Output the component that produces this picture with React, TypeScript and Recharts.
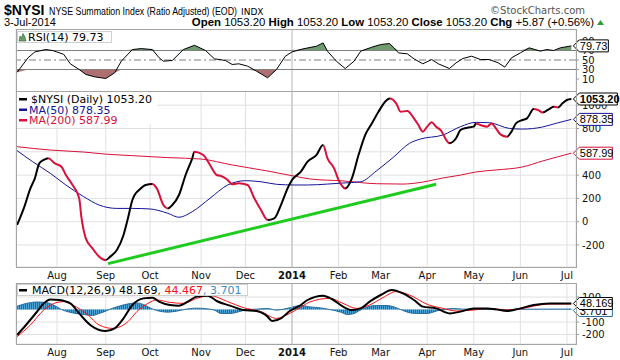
import React from "react";
import {
  ComposedChart,
  Line,
  Area,
  XAxis,
  YAxis,
  CartesianGrid,
  ReferenceLine,
  ReferenceDot,
} from "recharts";

// trading-day index (0 = 3-Jul-2013) for the first session of each month
const monthDays = [20, 42, 62, 85, 105, 126, 147, 166, 187, 208, 229, 250];
const monthNames = ["Aug", "Sep", "Oct", "Nov", "Dec", "2014", "Feb", "Mar", "Apr", "May", "Jun", "Jul"];

const nysiDays = [
  2, 5, 8, 10, 12, 14, 16, 19, 22, 24, 27, 30, 31, 33, 36, 39, 42, 44, 47, 50, 52, 54, 55, 57, 60, 63, 65, 68, 70, 72,
  75, 78, 81, 82, 86, 89, 92, 94, 97, 99, 102, 106, 109, 112, 115, 118, 121, 124, 126, 130, 133, 137, 140, 142, 145,
  147, 150, 153, 156, 159, 162, 165, 168, 170, 173, 175, 178, 181, 183, 185, 187, 189, 191, 193, 197, 200, 202, 205,
  208, 209, 211, 214, 216, 218, 220, 223, 225, 227, 230, 232, 235, 237, 239, 242, 244, 246, 248, 250, 252,
];
const nysiValues = [
  -28, 114, 286, 372, 501, 530, 544, 501, 472, 401, 315, 201, 40, -143, -229, -300, -329, -300, -243, -114, 29, 186,
  229, 272, 315, 324, 286, 143, 114, 143, 229, 401, 544, 601, 572, 487, 401, 392, 358, 321, 330, 315, 201, 100, 15, 29,
  143, 286, 358, 430, 515, 572, 658, 544, 458, 358, 286, 372, 572, 744, 844, 944, 1030, 1058, 1016, 944, 950, 887, 830,
  773, 816, 853, 816, 787, 673, 716, 787, 807, 816, 844, 830, 816, 844, 801, 750, 730, 773, 844, 873, 887, 967, 959,
  938, 967, 987, 981, 1016, 1045, 1053.2,
];
// stretches where the line is drawn red (falling)
const nysiFalling = [
  [16, 42], [63, 70], [82, 115], [140, 150], [170, 197], [209, 223], [235, 239], [244, 246],
];

const ma50Days = [
  2, 9, 17, 24, 32, 39, 47, 54, 62, 70, 75, 81, 89, 97, 105, 112, 119, 127, 133, 142, 149, 157, 164, 172, 179, 184,
  194, 202, 209, 215, 224, 230, 239, 245, 252,
];
const ma50Values = [
  610, 515, 415, 315, 215, 143, 114, 114, 109, 72, 38, 86, 201, 315, 352, 343, 321, 315, 315, 323, 332, 343, 435, 558,
  673, 710, 744, 816, 853, 850, 801, 795, 813, 844, 878.35,
];

const ma200Days = [2, 17, 32, 42, 54, 70, 85, 99, 115, 126, 134, 149, 164, 176, 185, 194, 202, 209, 218, 230, 239, 252];
const ma200Values = [
  644, 615, 598, 580, 567, 550, 538, 487, 435, 395, 367, 350, 326, 323, 340, 375, 400, 427, 444, 470, 521, 587.99,
];

const trendDays = [43, 191];
const trendValues = [-360, 322];

const rsiDays = [
  2, 7, 10, 15, 18, 23, 26, 30, 33, 37, 42, 46, 49, 54, 58, 63, 66, 68, 72, 77, 82, 87, 91, 96, 99, 102, 106, 110, 115,
  119, 123, 126, 131, 137, 140, 142, 146, 150, 154, 157, 162, 166, 170, 172, 174, 178, 181, 185, 189, 192, 197, 200,
  203, 207, 211, 215, 219, 222, 225, 229, 233, 238, 241, 244, 247, 252,
];
const rsiValues = [
  24, 55, 67, 72, 70, 62, 42, 30, 19.5, 14.5, 11, 23, 47.5, 72, 74, 72, 55, 47.5, 49, 72, 81, 70, 52.5, 49, 40.5, 42,
  37, 26.5, 12.5, 30, 58, 67, 73.5, 79, 86, 68.6, 47.5, 32, 47.5, 68.6, 77, 82.6, 84.7, 75.6, 65, 63, 52.5, 42, 51, 42,
  32, 44, 53, 58, 51, 51, 44, 35, 54.6, 65, 75.6, 68.6, 72, 70, 75.6, 79.73,
];

const macdDays = [
  2, 6, 11, 14, 17, 21, 26, 30, 35, 39, 42, 46, 50, 54, 59, 63, 66, 71, 75, 79, 83, 88, 92, 98, 104, 110, 115, 117, 121,
  125, 130, 133, 140, 144, 149, 153, 157, 161, 166, 171, 176, 181, 185, 191, 197, 202, 208, 214, 218, 223, 229, 235,
  242, 252,
];
const macdValues = [
  -204, -124, -17, 49, 81, 76, 49, -31, -124, -164, -172, -151, -71, 36, 89, 95, 63, 36, 31, 63, 103, 111, 68, 31, -4,
  -12, -57, -92, -71, -12, 36, 76, 111, 84, 23, -4, 9, 63, 116, 156, 129, 76, 23, 9, -31, -17, 9, 9, 1, -12, 9, 36, 49,
  48.169,
];

const signalDays = [
  2, 8, 14, 20, 23, 27, 34, 39, 45, 52, 56, 61, 65, 71, 77, 83, 89, 97, 104, 112, 119, 125, 131, 134, 143, 149, 155,
  161, 167, 173, 179, 187, 194, 200, 208, 215, 223, 229, 236, 242, 252,
];
const signalValues = [
  -217, -124, -4, 57, 63, 36, -44, -124, -151, -97, -17, 49, 76, 57, 49, 89, 111, 63, 15, -17, -71, -31, 30, 60, 89,
  49, 9, 36, 95, 143, 116, 41, 9, -12, -4, 9, -4, 5, 31, 44, 44.467,
];

const histDays = [
  2, 6, 11, 15, 18, 22, 27, 32, 36, 39, 42, 45, 48, 53, 56, 59, 62, 65, 70, 74, 79, 83, 88, 91, 94, 98, 103, 106, 109,
  115, 119, 124, 130, 134, 139, 143, 148, 151, 154, 156, 160, 164, 169, 172, 175, 178, 182, 187, 191, 194, 199, 203,
  212, 221, 230, 239, 248, 252,
];
const histValues = [
  27, 48, 60, 56, 40, 0, -27, -40, -48, -32, -13, 10, 27, 48, 53, 40, 13, -8, -21, -13, 5, 11, 5, -5, -32, -32, -13, 0,
  2, 8, -5, 10, 32, 21, 13, 0, -21, -40, -32, -13, 21, 32, 32, 21, 0, -21, -32, -32, -13, 0, 8, 3, 2, -3, 2, 3, 3,
  3.701,
];

const X_DOMAIN: [number, number] = [1.5, 254.1];
const RSI_DOMAIN: [number, number] = [-15.3, 115.3];
const PRICE_DOMAIN: [number, number] = [-389, 1122];
const MACD_DOMAIN: [number, number] = [-276, 212];
const FONT = '"DejaVu Sans", Verdana, sans-serif';
const HEAD = '"Liberation Sans", Arial, sans-serif';
const GRID = "#e0e0e0";
const JAN_LINE = "#b8b8b8";
const RED = "#d8103a";
const NAVY = "#14149a";

const toPoints = (days: number[], values: number[]) => days.map((d, i) => ({ d, v: values[i] }));

const nysiData = toPoints(nysiDays, nysiValues);
const ma50Data = toPoints(ma50Days, ma50Values);
const ma200Data = toPoints(ma200Days, ma200Values);
const trendData = toPoints(trendDays, trendValues);
const rsiData = toPoints(rsiDays, rsiValues);
const macdData = toPoints(macdDays, macdValues);
const signalData = toPoints(signalDays, signalValues);
const histData = toPoints(histDays, histValues);

const last = (a: number[]) => a[a.length - 1];

const firstDay = nysiDays[0];
const spanDays = last(nysiDays) - firstDay;
const nysiStops: { o: number; c: string }[] = [{ o: 0, c: "#000" }];
nysiFalling.forEach(([a, b]) => {
  const fa = (a - firstDay) / spanDays;
  const fb = (b - firstDay) / spanDays;
  nysiStops.push({ o: fa, c: "#000" }, { o: fa, c: RED }, { o: fb, c: RED }, { o: fb, c: "#000" });
});
nysiStops.push({ o: 1, c: "#000" });

const Tag = ({ cx, cy, text, border, bold = false, width = 39 }: any) => {
  const x = cx + 2;
  const h = 6;
  return (
    <g>
      <path
        d={`M${x},${cy} L${x + 6},${cy - h} L${x + width},${cy - h} L${x + width},${cy + h} L${x + 6},${cy + h} Z`}
        fill="#fff"
        stroke={border}
      />
      <text x={x + 6.5} y={cy + 4} fontFamily={HEAD} fontSize={11} fontWeight={bold ? 700 : 400} fill="#000">
        {text}
      </text>
    </g>
  );
};

const MonthTick = (props: any) => {
  const { x, y, payload } = props;
  const name = monthNames[monthDays.indexOf(payload.value)];
  return (
    <text x={x} y={y + 12} textAnchor="middle" fontFamily={FONT} fontSize={10} fontWeight={name === "2014" ? 700 : 400} fill="#111">
      {name}
    </text>
  );
};

const yTick = { fontFamily: FONT, fontSize: 10, fill: "#111" };

const xAxisProps = {
  dataKey: "d",
  type: "number" as const,
  domain: X_DOMAIN,
  ticks: monthDays,
  allowDataOverflow: true,
  interval: 0 as const,
  axisLine: false,
  tickLine: false,
  tickSize: 0,
  tickMargin: 0,
};

const yAxisProps = {
  orientation: "right" as const,
  width: 44,
  allowDataOverflow: true,
  interval: 0 as const,
  axisLine: false,
  tickSize: 3,
  tickMargin: 3,
  tickLine: { stroke: "#999" },
  tick: yTick,
};

const chartMargin = { top: 0, right: 0, bottom: 0, left: 16 };

// a transparent copy of a panel's axes, stacked on top, that only carries the value tags
const TagLayer = ({ height, xHeight, domain, children }: any) => (
  <ComposedChart width={620} height={height} margin={chartMargin}>
    <XAxis {...xAxisProps} height={xHeight} tick={false} />
    <YAxis {...yAxisProps} domain={domain} tick={false} tickLine={false} />
    {children}
  </ComposedChart>
);

const App = () => (
  <div style={{ position: "absolute", left: 0, top: 0, width: 620, height: 360, background: "#fff", overflow: "hidden" }}>
    {/* RSI panel */}
    <div style={{ position: "absolute", left: 0, top: 29 }}>
      <ComposedChart width={620} height={62} margin={chartMargin}>
        <CartesianGrid horizontal={false} stroke={GRID} />
        <XAxis {...xAxisProps} height={0} tick={false} />
        <YAxis {...yAxisProps} domain={RSI_DOMAIN} ticks={[10, 30, 50, 70, 90]} />
        <ReferenceLine x={126} stroke={JAN_LINE} />
        <ReferenceLine y={70} stroke="#808080" />
        <ReferenceLine y={30} stroke="#808080" />
        <ReferenceLine y={50} stroke="#808080" strokeDasharray="7 3 2 3" />
        <Area
          data={rsiData}
          dataKey={(p: any) => [70, Math.max(p.v, 70)]}
          type="linear"
          stroke="none"
          fill="#6f9b6f"
          fillOpacity={1}
          isAnimationActive={false}
        />
        <Area
          data={rsiData}
          dataKey={(p: any) => [Math.min(p.v, 30), 30]}
          type="linear"
          stroke="none"
          fill="#ad6f6f"
          fillOpacity={1}
          isAnimationActive={false}
        />
        <Line data={rsiData} dataKey="v" type="linear" stroke="#000" strokeWidth={1} dot={false} isAnimationActive={false} />
      </ComposedChart>
    </div>
    <div style={{ position: "absolute", left: 0, top: 29 }}>
      <TagLayer height={62} xHeight={0} domain={RSI_DOMAIN}>
        <ReferenceDot
          x={last(rsiDays)}
          y={last(rsiValues)}
          r={2}
          ifOverflow="visible"
          shape={(p: any) => <Tag cx={p.cx} cy={p.cy} text={last(rsiValues).toFixed(2)} border="#000" width={35} />}
        />
      </TagLayer>
    </div>

    {/* price panel */}
    <div style={{ position: "absolute", left: 0, top: 91 }}>
      <ComposedChart width={620} height={192} margin={chartMargin}>
        <defs>
          <linearGradient id="nysiStroke" x1="0" y1="0" x2="1" y2="0">
            {nysiStops.map((s, i) => (
              <stop key={i} offset={s.o} stopColor={s.c} />
            ))}
          </linearGradient>
        </defs>
        <CartesianGrid stroke={GRID} />
        <XAxis {...xAxisProps} height={16} tick={<MonthTick />} />
        <YAxis {...yAxisProps} domain={PRICE_DOMAIN} ticks={[-200, 0, 200, 400, 600, 800, 1000]} />
        <ReferenceLine x={126} stroke={JAN_LINE} />
        <Line data={ma200Data} dataKey="v" type="monotone" stroke={RED} strokeWidth={1} dot={false} isAnimationActive={false} />
        <Line data={ma50Data} dataKey="v" type="monotone" stroke={NAVY} strokeWidth={1} dot={false} isAnimationActive={false} />
        <Line data={trendData} dataKey="v" type="linear" stroke="#1ecb1e" strokeWidth={3} dot={false} isAnimationActive={false} />
        <Line
          data={nysiData}
          dataKey="v"
          type="monotone"
          stroke="url(#nysiStroke)"
          strokeWidth={2}
          dot={false}
          isAnimationActive={false}
        />
      </ComposedChart>
    </div>
    <div style={{ position: "absolute", left: 0, top: 91 }}>
      <TagLayer height={192} xHeight={16} domain={PRICE_DOMAIN}>
        <ReferenceDot
          x={last(ma200Days)}
          y={last(ma200Values)}
          r={2}
          ifOverflow="visible"
          shape={(p: any) => <Tag cx={p.cx} cy={p.cy} text={last(ma200Values).toFixed(2)} border={RED} />}
        />
        <ReferenceDot
          x={last(ma50Days)}
          y={last(ma50Values)}
          r={2}
          ifOverflow="visible"
          shape={(p: any) => <Tag cx={p.cx} cy={p.cy} text={last(ma50Values).toFixed(2)} border={NAVY} />}
        />
        <ReferenceDot
          x={last(nysiDays)}
          y={last(nysiValues)}
          r={2}
          ifOverflow="visible"
          shape={(p: any) => <Tag cx={p.cx} cy={p.cy} text={last(nysiValues).toFixed(2)} border="#000" bold width={44} />}
        />
      </TagLayer>
    </div>

    {/* MACD panel */}
    <div style={{ position: "absolute", left: 0, top: 283 }}>
      <ComposedChart width={620} height={77} margin={chartMargin}>
        <defs>
          <pattern id="histStripes" width="2" height="4" patternUnits="userSpaceOnUse">
            <rect x="0" y="0" width="1" height="4" fill="#4ea4d6" />
            <rect x="1" y="0" width="1" height="4" fill="#26689a" />
          </pattern>
        </defs>
        <CartesianGrid stroke={GRID} />
        <XAxis {...xAxisProps} height={16} tick={<MonthTick />} />
        <YAxis {...yAxisProps} domain={MACD_DOMAIN} ticks={[-200, -100, 0, 100]} />
        <ReferenceLine x={126} stroke={JAN_LINE} />
        <Area
          data={histData}
          dataKey="v"
          baseValue={0}
          type="monotone"
          stroke="#2a6f9f"
          strokeWidth={1}
          fill="url(#histStripes)"
          fillOpacity={1}
          isAnimationActive={false}
        />
        <Line data={signalData} dataKey="v" type="monotone" stroke="#ff1010" strokeWidth={1} dot={false} isAnimationActive={false} />
        <Line data={macdData} dataKey="v" type="monotone" stroke="#000" strokeWidth={2} dot={false} isAnimationActive={false} />
      </ComposedChart>
    </div>
    <div style={{ position: "absolute", left: 0, top: 283 }}>
      <TagLayer height={77} xHeight={16} domain={MACD_DOMAIN}>
        <ReferenceDot
          x={last(histDays)}
          y={last(histValues)}
          r={2}
          ifOverflow="visible"
          shape={(p: any) => <Tag cx={p.cx} cy={p.cy + 1.5} text={last(histValues).toFixed(3)} border="#2a6f9f" />}
        />
        <ReferenceDot
          x={last(macdDays)}
          y={last(macdValues)}
          r={2}
          ifOverflow="visible"
          shape={(p: any) => <Tag cx={p.cx} cy={p.cy} text={last(macdValues).toFixed(3)} border="#000" />}
        />
      </TagLayer>
    </div>

    {/* header, panel frames and legends */}
    <svg width={620} height={360} style={{ position: "absolute", left: 0, top: 0, pointerEvents: "none" }}>
      <text x={4} y={15} fontFamily={HEAD} fontSize={14} fontWeight={700} fill="#000">
        $NYSI
      </text>
      <text x={49} y={15} fontFamily={HEAD} fontSize={10.5} fill="#000" textLength={188} lengthAdjust="spacingAndGlyphs">
        NYSE Summation Index (Ratio Adjusted) (EOD)
      </text>
      <text x={241} y={15} fontFamily={FONT} fontSize={9} fill="#000">
        INDX
      </text>
      <text x={585} y={14} textAnchor="end" fontFamily={FONT} fontSize={10} fill="#555">
        ©StockCharts.com
      </text>
      <text x={4} y={26} fontFamily={HEAD} fontSize={11} fill="#000">
        3-Jul-2014
      </text>
      <text x={594} y={26} textAnchor="end" fontFamily={HEAD} fontSize={11.4} fill="#000">
        <tspan fontWeight={700}>Open</tspan> 1053.20 <tspan fontWeight={700}>High</tspan> 1053.20{" "}
        <tspan fontWeight={700}>Low</tspan> 1053.20 <tspan fontWeight={700}>Close</tspan> 1053.20{" "}
        <tspan fontWeight={700}>Chg</tspan> +5.87 (+0.56%)
      </text>
      <path d="M597,25 L604,25 L600.5,20 Z" fill="#2e9a3c" />

      <rect x={16.5} y={29.5} width={560} height={62} fill="none" stroke="#a4a4a4" />
      <rect x={16.5} y={91.5} width={560} height={176} fill="none" stroke="#a4a4a4" />
      <rect x={16.5} y={283.5} width={560} height={61} fill="none" stroke="#a4a4a4" />

      {/* RSI legend */}
      <rect x={17.5} y={31.5} width={94} height={11} fill="#fff" stroke="#d0d0d0" />
      <path d="M19,41 L20,36 L21.5,37.5 L23,33.5 L25,37 L26,41 Z" fill="#6f9b6f" stroke="#2f5f2f" strokeWidth={0.6} />
      <text x={28} y={41} fontFamily={FONT} fontSize={11} fill="#000">
        RSI(14) {last(rsiValues).toFixed(2)}
      </text>

      {/* price legend */}
      <rect x={17} y={93} width={140} height={31} fill="#fff" />
      <rect x={19} y={98} width={8} height={2.5} fill="#000" />
      <text x={31} y={103} fontFamily={FONT} fontSize={11} fill="#000">
        $NYSI (Daily) {last(nysiValues).toFixed(2)}
      </text>
      <rect x={19} y={108.5} width={8} height={2.5} fill={NAVY} />
      <text x={29} y={113.5} fontFamily={FONT} fontSize={11} fill={NAVY}>
        MA(50) {last(ma50Values).toFixed(2)}
      </text>
      <rect x={19} y={119} width={8} height={2.5} fill={RED} />
      <text x={29} y={124} fontFamily={FONT} fontSize={11} fill={RED}>
        MA(200) {last(ma200Values).toFixed(2)}
      </text>

      {/* MACD legend */}
      <rect x={17.5} y={284.5} width={230} height={11} fill="#fff" stroke="#d0d0d0" />
      <rect x={19} y={289} width={8} height={2.5} fill="#000" />
      <text x={32} y={294} fontFamily={FONT} fontSize={11} fill="#000">
        MACD(12,26,9) {last(macdValues).toFixed(3)}
        <tspan fill="#ff1010">, {last(signalValues).toFixed(3)}</tspan>
        <tspan fill="#3a8cc0">, {last(histValues).toFixed(3)}</tspan>
      </text>
    </svg>
  </div>
);

export default App;
